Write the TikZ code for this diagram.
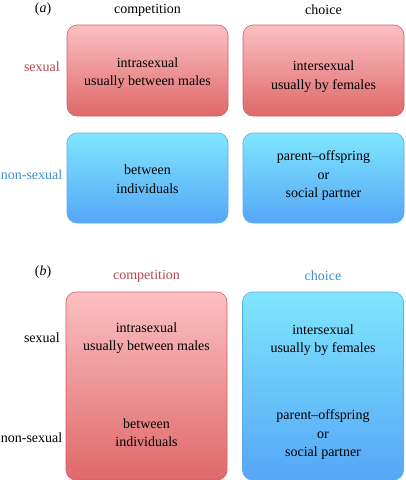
\documentclass[tikz,border=0pt]{standalone}
\usepackage{fontspec}
\setmainfont{Liberation Serif}
\definecolor{redtop}{RGB}{251,192,194}
\definecolor{redbot}{RGB}{223,104,106}
\definecolor{redline}{RGB}{212,92,96}
\definecolor{bluetop}{RGB}{127,230,253}
\definecolor{bluebot}{RGB}{86,166,247}
\definecolor{blueline}{RGB}{92,172,236}
\definecolor{redtext}{RGB}{181,72,80}
\definecolor{bluetext}{RGB}{58,142,210}
\tikzset{
  box/.style={rounded corners=10pt, minimum width=161pt, inner sep=0pt, line width=0.6pt},
  redbox/.style={box, top color=redtop, bottom color=redbot, draw=redline},
  bluebox/.style={box, top color=bluetop, bottom color=bluebot, draw=blueline},
  txt/.style={font=\fontsize{14}{18.5}\selectfont, align=center, inner sep=0pt},
  lab/.style={font=\fontsize{14}{18}\selectfont, inner sep=0pt},
}
\begin{document}
\begin{tikzpicture}[x=1pt,y=-1pt]
\useasboundingbox (0,0) rectangle (405,480);
% panel (a)
\node[lab] (pa) at (43,9.5) {(\textit{a})};
\node[lab] (ca) at (147.5,10) {competition};
\node[lab] (cha) at (323.5,10) {choice};
\node[lab, anchor=east, text=redtext] (sa) at (60,67) {sexual};
\node[lab, anchor=east, text=bluetext] (nsa) at (62.5,175) {non-sexual};
\node[redbox, minimum height=91pt] (a11) at (147.5,70.5) {};
\node[redbox, minimum height=91pt] (a12) at (323.5,70.5) {};
\node[bluebox, minimum height=90pt] (a21) at (147.5,178) {};
\node[bluebox, minimum height=90pt] (a22) at (323.5,178) {};
\node[txt] (ta11) at (147.5,73) {intrasexual\\usually between males};
\node[txt] (ta12) at (323.5,76.5) {intersexual\\usually by females};
\node[txt] (ta21) at (147.5,179) {between\\individuals};
\node[txt] (ta22) at (323.5,176) {parent–offspring\\or\\social partner};
% panel (b)
\node[lab] (pb) at (43,272) {(\textit{b})};
\node[lab, text=redtext] (cb) at (146.5,276) {competition};
\node[lab, text=bluetext] (chb) at (323,276) {choice};
\node[lab, anchor=east] (sb) at (60,338) {sexual};
\node[lab, anchor=east] (nsb) at (62.5,438) {non-sexual};
\node[redbox, minimum height=188pt] (b1) at (146.5,386) {};
\node[bluebox, minimum height=188pt] (b2) at (323,386) {};
\node[txt] (tb11) at (146.5,338) {intrasexual\\usually between males};
\node[txt] (tb12) at (323,340) {intersexual\\usually by females};
\node[txt] (tb21) at (146.5,432.5) {between\\individuals};
\node[txt] (tb22) at (323,435) {parent–offspring\\or\\social partner};
\end{tikzpicture}
\end{document}
